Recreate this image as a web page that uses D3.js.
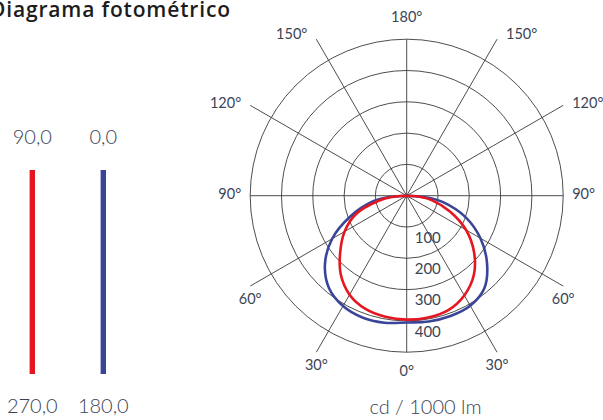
<!DOCTYPE html>
<html><head><meta charset="utf-8">
<script src="https://cdn.jsdelivr.net/npm/d3@7"></script>
<style>html,body{margin:0;padding:0;background:#fff;}svg{display:block;}</style>
</head><body>
<svg id="c" width="603" height="420"></svg>
<script>
// gamma angles (deg from nadir)
const gammas = [0,10,20,30,40,50,60,70,80,85,90];
// C0 (right) and C180 (left) plane – blue
const c0   = [405,408,409,406,386,335,272,200,118,65,0];
const c180 = [405,412,414,407,386,341,275,190,112,60,0];
// C90 (right) and C270 (left) plane – red
const c90  = [396,395,389,368,333,281,219,147,81,45,0];
const c270 = [393,393,385,365,328,277,229,173,89,48,0];
const ringValues = [100,200,300,400,500];
const ringLabels = ["100","200","300","400"];
const spokeAngles = [0,30,60,90,120,150,180,210,240,270,300,330];
const angleLabels = [
  {a:0,t:"0°"},{a:30,t:"30°"},{a:-30,t:"30°"},{a:60,t:"60°"},{a:-60,t:"60°"},
  {a:90,t:"90°"},{a:-90,t:"90°"},{a:120,t:"120°"},{a:-120,t:"120°"},
  {a:150,t:"150°"},{a:-150,t:"150°"},{a:180,t:"180°"}];
const legend = [
  {top:"90,0", bottom:"270,0", color:"#e5161f"},
  {top:"0,0", bottom:"180,0", color:"#3a4597"}];
const title = "Diagrama fotométrico";
const unit = "cd / 1000 lm";

const svg = d3.select("#c");
const cx = 406.7, cy = 195.7, R = 156.5;
const r = d3.scaleLinear().domain([0,500]).range([0,R]);
const textCol = "#3b4456";
const font = "Lato, 'Open Sans', sans-serif";

svg.append("text").attr("x",-10).attr("y",17).attr("text-anchor","start")
  .attr("font-family","'Open Sans', sans-serif").attr("font-weight",600).attr("font-size",21)
  .attr("textLength",240).attr("lengthAdjust","spacing")
  .attr("fill","#1c1c1c").text(title);

const g = svg.append("g").attr("transform",`translate(${cx},${cy})`);
// rings
g.selectAll("circle.ring").data(ringValues).join("circle")
  .attr("r",d=>r(d)).attr("fill","none").attr("stroke","#3a3a3a").attr("stroke-width",0.9);
// spokes (gamma measured from nadir, clockwise to the right)
function pt(gDeg, rad){ const a = gDeg*Math.PI/180; return [rad*Math.sin(a), rad*Math.cos(a)]; }
function spokeLen(d){ const a=d*Math.PI/180; return R/Math.max(Math.abs(Math.sin(a)),Math.abs(Math.cos(a))); }
g.selectAll("line.spoke").data(spokeAngles).join("line")
  .attr("x1",0).attr("y1",0)
  .attr("x2",d=>pt(d,spokeLen(d))[0])
  .attr("y2",d=>pt(d,spokeLen(d))[1])
  .attr("stroke","#3a3a3a").attr("stroke-width",0.9);

// curves
const line = d3.lineRadial().curve(d3.curveCatmullRom.alpha(0.5))
  .angle(d=>d[0]).radius(d=>r(d[1]));
function curvePts(right,left){
  const p=[];
  for(let i=gammas.length-1;i>=0;i--) p.push([Math.PI - gammas[i]*Math.PI/180, right[i]]);
  for(let i=1;i<gammas.length;i++) p.push([Math.PI + gammas[i]*Math.PI/180, left[i]]);
  return p;
}
g.append("path").attr("d",line(curvePts(c0,c180))).attr("fill","none")
  .attr("stroke",legend[1].color).attr("stroke-width",2.6);
g.append("path").attr("d",line(curvePts(c90,c270))).attr("fill","none")
  .attr("stroke",legend[0].color).attr("stroke-width",2.6);

// ring labels
g.selectAll("text.rl").data(ringLabels).join("text")
  .attr("x",8).attr("y",d=>r(+d)+12).attr("dominant-baseline","middle")
  .attr("font-family",font).attr("font-size",15).attr("fill",textCol).text(d=>d);

// angle labels
g.selectAll("text.al").data(angleLabels).join("text")
  .each(function(d){
    const a=Math.abs(d.a), s=Math.sign(d.a)||1;
    const [ex,ey]=pt(a,spokeLen(a));
    let x,y,anchor;
    if(a===0){x=0;y=R+20;anchor="middle";}
    else if(a===180){x=0;y=-R-21;anchor="middle";}
    else if(a<90){x=s*ex;y=ey+14;anchor="middle";}
    else {x=s*(ex+9);y=ey-(a===150?4:(a===120?1:0));anchor=s>0?"start":"end";}
    d3.select(this).attr("x",x).attr("y",y).attr("text-anchor",anchor)
      .attr("dominant-baseline","middle");
  })
  .attr("font-family",font).attr("font-size",14.5).attr("fill",textCol).text(d=>d.t);

// unit
svg.append("text").attr("x",425.5).attr("y",409).attr("text-anchor","middle")
  .attr("dominant-baseline","middle").attr("font-family",font).attr("font-weight",300)
  .attr("font-size",20).attr("fill",textCol).text(unit);

// legend
const lx = d3.scalePoint().domain(legend.map(d=>d.top)).range([32.3,103.3]);
const lg = svg.append("g");
lg.selectAll("rect").data(legend).join("rect")
  .attr("x",d=>lx(d.top)-2.7).attr("y",170).attr("width",5.4).attr("height",204)
  .attr("fill",d=>d.color);
lg.selectAll("text.t").data(legend).join("text")
  .attr("x",d=>lx(d.top)).attr("y",139).attr("text-anchor","middle").attr("dominant-baseline","middle")
  .attr("font-family",font).attr("font-weight",300).attr("font-size",20).attr("fill",textCol).text(d=>d.top);
lg.selectAll("text.b").data(legend).join("text")
  .attr("x",d=>lx(d.top)).attr("y",408).attr("text-anchor","middle").attr("dominant-baseline","middle")
  .attr("font-family",font).attr("font-weight",300).attr("font-size",20).attr("fill",textCol).text(d=>d.bottom);
</script>
</body></html>
